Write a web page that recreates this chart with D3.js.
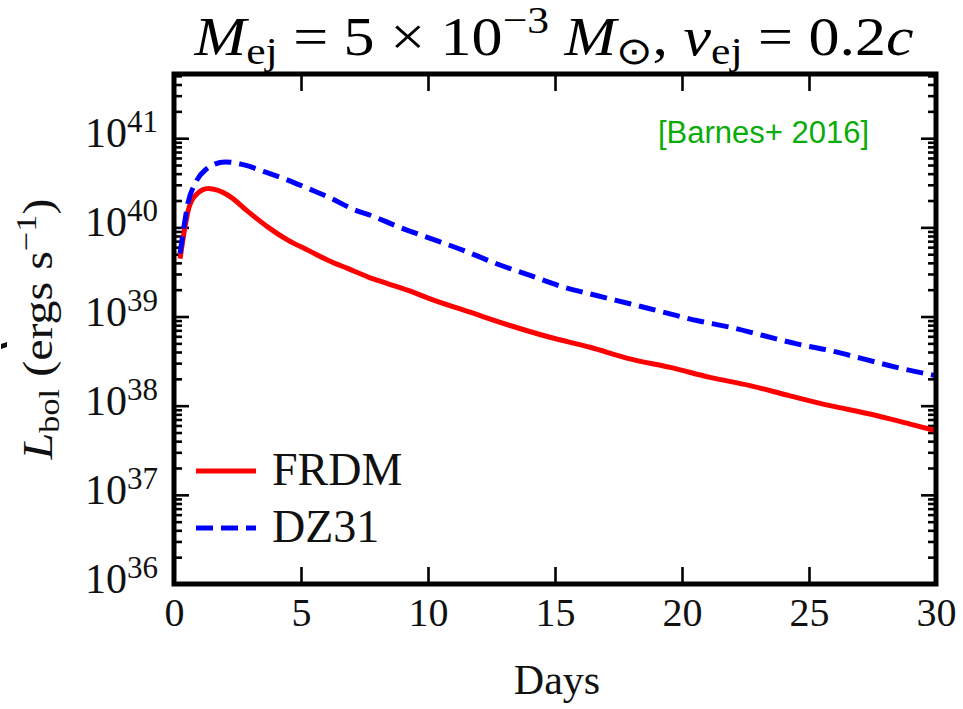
<!DOCTYPE html>
<html><head><meta charset="utf-8">
<script src="https://cdn.jsdelivr.net/npm/d3@7"></script>
<style>body{margin:0;background:#fff}svg{display:block}</style>
</head><body><svg id="c" width="963" height="709"></svg>
<script>
// ---- data ----
const frdmDays = [0.24,0.40,0.56,0.85,1.35,2.13,2.93,3.71,4.50,5.29,6.08,6.86,7.65,8.43,9.22,10.08,11.65,13.23,14.80,16.38,17.95,19.53,21.10,22.68,24.25,25.83,27.40,28.98,30.0];
const frdmL = [4.45e39,8.9e39,1.55e40,2.29e40,2.72e40,2.29e40,1.49e40,1.0e40,7.14e39,5.52e39,4.26e39,3.44e39,2.77e39,2.33e39,1.96e39,1.58e39,1.12e39,7.93e38,5.85e38,4.52e38,3.35e38,2.69e38,2.08e38,1.68e38,1.29e38,1.0e38,8.07e37,6.22e37,5.24e37];
const dz31Days = [0.24,0.37,0.56,0.83,1.22,2.01,2.80,3.58,4.50,5.29,6.21,7.00,7.91,8.70,9.75,11.39,12.70,14.02,15.33,16.64,17.95,19.26,20.58,21.89,23.20,24.52,25.83,27.14,28.45,30.0];
const dz31L = [5.1e39,9.25e39,1.92e40,3.1e40,4.37e40,5.42e40,4.98e40,4.18e40,3.37e40,2.72e40,2.10e40,1.62e40,1.31e40,1.05e40,8.13e39,5.52e39,3.91e39,2.89e39,2.14e39,1.72e39,1.39e39,1.12e39,9.02e38,7.59e38,6.12e38,4.93e38,4.15e38,3.35e38,2.69e38,2.17e38];
const xTicks = [0,5,10,15,20,25,30];
const yExponents = [36,37,38,39,40,41];
const seriesNames = ["FRDM","DZ31"];
const annotation = "[Barnes+ 2016]";
const xLabel = "Days";

// ---- layout ----
const svg = d3.select("#c");
const L = 174, R = 936, T = 74, B = 584;
const x = d3.scaleLinear().domain([0,30]).range([L,R]);
const y = d3.scaleLog().domain([1e36, Math.pow(10,41.72)]).range([B,T]);
const serif = "'Liberation Serif','Times New Roman',serif";
const ink = "#111";

svg.append("defs").append("clipPath").attr("id","clip")
  .append("rect").attr("x",L).attr("y",T).attr("width",R-L).attr("height",B-T);

const majors = yExponents.map(e => Math.pow(10,e));
const minors = [];
yExponents.forEach(e => { for (let k=2;k<=9;k++){ const v=k*Math.pow(10,e); if (v<=y.domain()[1]) minors.push(v);} });

function styleAxis(g){ g.select(".domain").remove(); g.selectAll(".tick line").attr("stroke","#000").attr("stroke-width",2.6); }

svg.append("g").attr("transform",`translate(${L},0)`)
  .call(d3.axisLeft(y).tickValues(majors).tickSizeInner(-15).tickSizeOuter(0).tickFormat("")).call(styleAxis);
svg.append("g").attr("transform",`translate(${L},0)`)
  .call(d3.axisLeft(y).tickValues(minors).tickSizeInner(-8).tickSizeOuter(0).tickFormat("")).call(styleAxis);
svg.append("g").attr("transform",`translate(${R},0)`)
  .call(d3.axisRight(y).tickValues(majors).tickSizeInner(-15).tickSizeOuter(0).tickFormat("")).call(styleAxis);
svg.append("g").attr("transform",`translate(${R},0)`)
  .call(d3.axisRight(y).tickValues(minors).tickSizeInner(-8).tickSizeOuter(0).tickFormat("")).call(styleAxis);
svg.append("g").attr("transform",`translate(0,${T})`)
  .call(d3.axisTop(x).tickValues(xTicks).tickSizeInner(-17).tickSizeOuter(0).tickFormat("")).call(styleAxis);
const bx = svg.append("g").attr("transform",`translate(0,${B})`)
  .call(d3.axisBottom(x).tickValues(xTicks).tickSizeInner(-17).tickSizeOuter(0).tickPadding(14).tickFormat(d3.format("d")))
  .call(styleAxis);
bx.selectAll(".tick text").attr("font-family",serif).attr("font-size",40).attr("fill",ink);

yExponents.forEach(e => {
  const t = svg.append("text").attr("x",158).attr("y",y(Math.pow(10,e))+9)
    .attr("text-anchor","end").attr("font-family",serif).attr("font-size",42).attr("fill",ink);
  t.append("tspan").text("10");
  t.append("tspan").attr("font-size",31).attr("dy",-15).text(String(e));
});

const line = d3.line().x(d=>x(d[0])).y(d=>y(d[1])).curve(d3.curveMonotoneX);
const plot = svg.append("g").attr("clip-path","url(#clip)");
plot.append("path").datum(frdmDays.map((d,i)=>[d,frdmL[i]]))
  .attr("d",line).attr("fill","none").attr("stroke","#ff0000").attr("stroke-width",5);
plot.append("path").datum(dz31Days.map((d,i)=>[d,dz31L[i]]))
  .attr("d",line).attr("fill","none").attr("stroke","#0000ff").attr("stroke-width",5)
  .attr("stroke-dasharray","17,8");

svg.append("rect").attr("x",L).attr("y",T).attr("width",R-L).attr("height",B-T)
  .attr("fill","none").attr("stroke","#000").attr("stroke-width",5);

const leg = [{name:seriesNames[0],color:"#ff0000",dash:null,y:471},{name:seriesNames[1],color:"#0000ff",dash:"17,8",y:528}];
leg.forEach(l => {
  svg.append("line").attr("x1",196).attr("x2",256).attr("y1",l.y).attr("y2",l.y)
    .attr("stroke",l.color).attr("stroke-width",5).attr("stroke-dasharray",l.dash);
  svg.append("text").attr("x",272).attr("y",l.y+14).attr("font-family",serif).attr("font-size",46)
    .attr("fill",ink).text(l.name);
});

svg.append("text").attr("x",658).attr("y",143).attr("font-family","'Liberation Sans',Arial,sans-serif")
  .attr("font-size",31).attr("fill","#0aab0a").text(annotation);

svg.append("text").attr("x",557).attr("y",694).attr("text-anchor","middle").attr("font-family",serif)
  .attr("font-size",42).attr("fill",ink).text(xLabel);

// small stray mark at the left edge of the reference
svg.append("path").attr("d","M1,344 L7,342 L7,347 L1,349 Z").attr("fill","#111");

const yl = svg.append("text").attr("transform","translate(52,329) rotate(-90)").attr("text-anchor","middle")
  .attr("font-family",serif).attr("font-size",42).attr("fill",ink);
yl.append("tspan").attr("font-style","italic").text("L");
yl.append("tspan").attr("font-size",30).attr("dy",7).text("bol");
yl.append("tspan").attr("dy",-7).text(" (ergs s");
yl.append("tspan").attr("font-size",30).attr("dy",-16).text("\u22121");
yl.append("tspan").attr("dy",16).text(")");

const tt = svg.append("text").attr("x",553).attr("y",55).attr("text-anchor","middle")
  .attr("font-family",serif).attr("font-size",54).attr("fill","#000");
tt.append("tspan").attr("font-style","italic").text("M");
tt.append("tspan").attr("font-size",38).attr("dy",9).text("ej");
tt.append("tspan").attr("dy",-9).text(" = 5 \u00d7 10");
tt.append("tspan").attr("font-size",38).attr("dy",-22).text("\u22123");
tt.append("tspan").attr("dy",22).text("  ");
tt.append("tspan").attr("font-style","italic").text("M");
tt.append("tspan").attr("font-size",38).attr("dy",9).text("\u2299");
tt.append("tspan").attr("dy",-9).text(", ");
tt.append("tspan").attr("font-style","italic").text("v");
tt.append("tspan").attr("font-size",38).attr("dy",9).text("ej");
tt.append("tspan").attr("dy",-9).text(" = 0.2");
tt.append("tspan").attr("font-style","italic").text("c");

function fitX(sel, x0, x1){
  const bb = sel.node().getBBox();
  const s = (x1-x0)/bb.width;
  const cx = (x0+x1)/2, bcx = bb.x + bb.width/2;
  sel.attr("transform", `translate(${cx},0) scale(${s},1) translate(${-bcx},0)`);
}
fitX(tt, 193, 914);
function fitLen(sel, len){
  const bb = sel.node().getBBox();
  const s = len/bb.width;
  sel.attr("transform",`translate(52,329) rotate(-90) scale(${s},1)`);
}
fitLen(yl, 262);
</script></body></html>
